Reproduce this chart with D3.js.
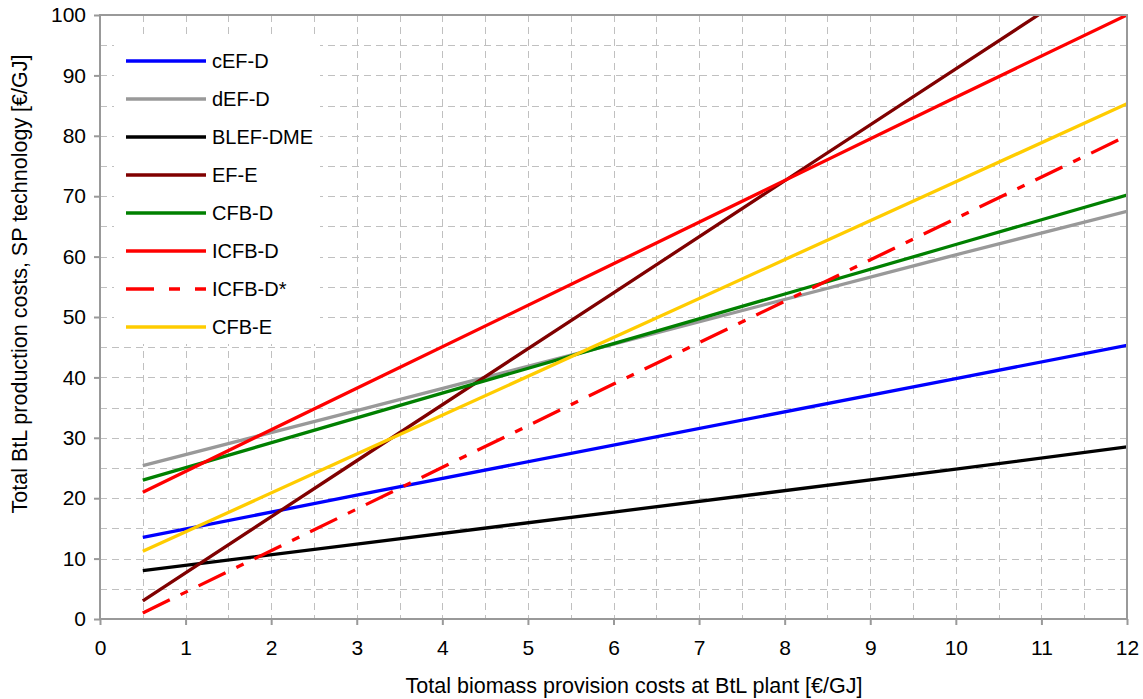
<!DOCTYPE html>
<html>
<head>
<meta charset="utf-8">
<script src="https://cdn.jsdelivr.net/npm/d3@7"></script>
<style>
  html, body { margin: 0; padding: 0; background: #fff; }
  svg { display: block; font-family: "Liberation Sans", Arial, sans-serif; }
</style>
</head>
<body>
<svg id="chart" width="1143" height="699"></svg>
<script>
// Biomass provision cost points [€/GJ]
const xValues = [0.5, 3, 6, 10, 12];

// Series names, colours and total BtL production costs [€/GJ]
const seriesNames = ["cEF-D", "dEF-D", "BLEF-DME", "EF-E", "CFB-D", "ICFB-D", "ICFB-D*", "CFB-E"];
const seriesColors = ["#0000ff", "#999999", "#000000", "#800000", "#008000", "#ff0000", "#ff0000", "#ffcc00"];
const seriesDashed = [false, false, false, false, false, false, true, false];

const cEFD    = [13.5, 20.5, 28.8, 39.8, 45.3];
const dEFD    = [25.4, 34.5, 45.5, 60.3, 67.5];
const blefDME = [8.0, 12.4, 17.7, 24.8, 28.5];
const efE     = [3.0, 26.2, 54.0, 91.1, 109.6];
const cfbD    = [23.0, 33.3, 45.6, 62.0, 70.2];
const icfbD   = [21.0, 38.2, 58.8, 86.4, 100.0];
const icfbDs  = [1.0, 18.2, 38.9, 66.3, 80.0];
const cfbE    = [11.2, 27.3, 46.6, 72.4, 85.3];
const seriesValues = [cEFD, dEFD, blefDME, efE, cfbD, icfbD, icfbDs, cfbE];

// Axis ticks
const xTicks = [0, 1, 2, 3, 4, 5, 6, 7, 8, 9, 10, 11, 12];
const yTicks = [0, 10, 20, 30, 40, 50, 60, 70, 80, 90, 100];
const xGrid = d3.range(0.5, 12, 0.5);
const yGrid = d3.range(5, 100, 5);

const xTitle = "Total biomass provision costs at BtL plant [€/GJ]";
const yTitle = "Total BtL production costs, SP technology [€/GJ]";

const svg = d3.select("#chart");
const plotLeft = 100, plotRight = 1127, plotTop = 15, plotBottom = 619;

const x = d3.scaleLinear().domain([0, 12]).range([plotLeft, plotRight]);
const y = d3.scaleLinear().domain([0, 100]).range([plotBottom, plotTop]);

// Dashed grid
const grid = svg.append("g").attr("stroke", "#c0c0c0").attr("stroke-width", 1)
  .attr("stroke-dasharray", "7,5");
grid.selectAll("line.v").data(xGrid).join("line").attr("class", "v")
  .attr("x1", d => Math.round(x(d)) + 0.5).attr("x2", d => Math.round(x(d)) + 0.5)
  .attr("y1", plotTop).attr("y2", plotBottom);
grid.selectAll("line.h").data(yGrid).join("line").attr("class", "h")
  .attr("y1", d => Math.round(y(d)) + 0.5).attr("y2", d => Math.round(y(d)) + 0.5)
  .attr("x1", plotLeft).attr("x2", plotRight);

// Series lines, clipped to the plot area
svg.append("clipPath").attr("id", "plotClip")
  .append("rect").attr("x", plotLeft).attr("y", plotTop)
  .attr("width", plotRight - plotLeft).attr("height", plotBottom - plotTop);

const line = d3.line().x(d => x(d[0])).y(d => y(d[1]));
const lines = svg.append("g").attr("clip-path", "url(#plotClip)");
seriesNames.forEach((name, i) => {
  const pts = xValues.map((xv, j) => [xv, seriesValues[i][j]]);
  lines.append("path").datum(pts)
    .attr("d", line)
    .attr("fill", "none")
    .attr("stroke", seriesColors[i])
    .attr("stroke-width", 3.3)
    .attr("stroke-dasharray", seriesDashed[i] ? "30,12,8,12" : null);
});

// Frame
svg.append("rect").attr("x", plotLeft).attr("y", plotTop)
  .attr("width", plotRight - plotLeft).attr("height", plotBottom - plotTop)
  .attr("fill", "none").attr("stroke", "#999999").attr("stroke-width", 2);

// Axes
const xAxis = svg.append("g").attr("transform", `translate(0,${plotBottom})`)
  .call(d3.axisBottom(x).tickValues(xTicks).tickSize(6).tickPadding(15).tickFormat(d3.format("d")));
const yAxis = svg.append("g").attr("transform", `translate(${plotLeft},0)`)
  .call(d3.axisLeft(y).tickValues(yTicks).tickSize(6).tickPadding(8).tickFormat(d3.format("d")));
[xAxis, yAxis].forEach(a => {
  a.select(".domain").remove();
  a.selectAll(".tick line").attr("stroke", "#999999").attr("stroke-width", 2);
  a.selectAll(".tick text").attr("fill", "#000").style("font-size", "21px")
    .style("font-family", "'Liberation Sans', Arial, sans-serif");
});

// Axis titles
svg.append("text").attr("x", 634).attr("y", 693).attr("text-anchor", "middle")
  .style("font-size", "21.5px").text(xTitle);
svg.append("text").attr("transform", "translate(27,284) rotate(-90)").attr("text-anchor", "middle")
  .style("font-size", "21.5px").text(yTitle);

// Legend
const legend = svg.append("g");
legend.append("rect").attr("x", 114).attr("y", 39).attr("width", 206).attr("height", 305).attr("fill", "#fff");
seriesNames.forEach((name, i) => {
  const ly = 61 + i * 38;
  legend.append("line").attr("x1", 126).attr("x2", 206).attr("y1", ly).attr("y2", ly)
    .attr("stroke", seriesColors[i]).attr("stroke-width", 3.3)
    .attr("stroke-dasharray", seriesDashed[i] ? "28,15,11,15" : null);
  legend.append("text").attr("x", 212).attr("y", ly).attr("dy", "0.35em")
    .style("font-size", "20px").text(name);
});
</script>
</body>
</html>
